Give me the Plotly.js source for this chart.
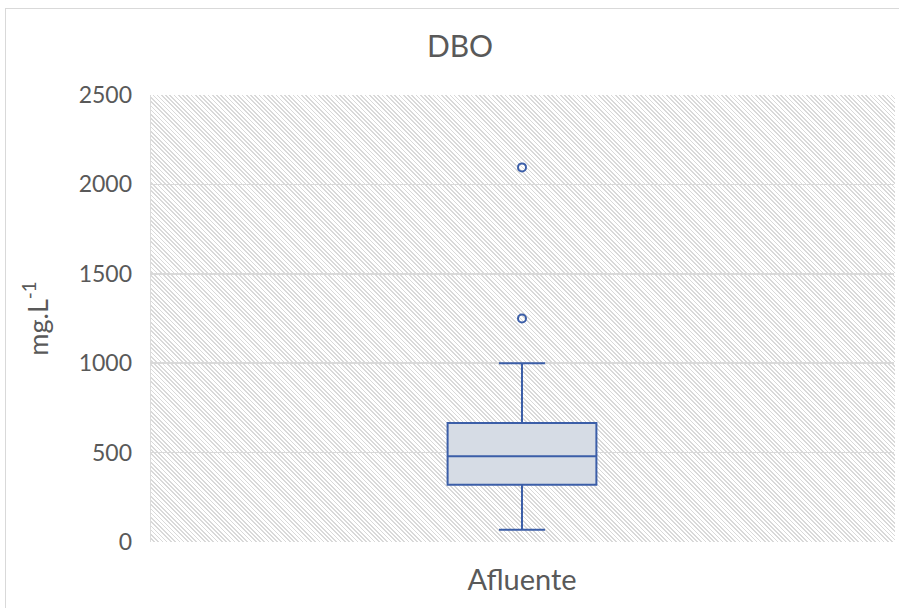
<!DOCTYPE html>
<html>
<head>
<meta charset="utf-8">
<script src="https://cdn.plot.ly/plotly-3.0.1.min.js"></script>
<style>
  html, body { margin: 0; padding: 0; background: #ffffff; overflow: hidden; }
  #hatch {
    position: absolute; left: 150px; top: 95px; width: 744px; height: 447px;
    background: repeating-linear-gradient(45deg, #ffffff 0px, #ffffff 1.8px, #d9d9d9 1.8px, #d9d9d9 3px);
    border-left: 1px solid #dcdcdc;
  }
  #chart { position: absolute; left: 0; top: 0; width: 899px; height: 608px; }
  #frame {
    position: absolute; left: 5px; top: 8px; width: 1000px; height: 700px;
    border: 1px solid #d9d9d9; pointer-events: none;
  }
</style>
</head>
<body>
<div id="hatch"></div>
<div id="chart"></div>
<div id="frame"></div>
<script>
// DBO (BOD) of the influent, summary statistics in mg/L
const categories = ['Afluente'];
const q1 = [320];
const median = [480];
const q3 = [665];
const lowerFence = [68];
const upperFence = [1000];
const outlierValues = [1250, 2095];
const outlierCategory = outlierValues.map(() => categories[0]);

const blue = '#3b5ea8';
const grey = '#595959';
const font = 'Lato, "Open Sans", sans-serif';

const traces = [
  {
    type: 'box',
    x: categories,
    q1: q1,
    median: median,
    q3: q3,
    lowerfence: lowerFence,
    upperfence: upperFence,
    boxpoints: false,
    width: 0.2,
    whiskerwidth: 0.31,
    fillcolor: '#d6dce5',
    line: { color: blue, width: 2 },
    hoverinfo: 'y',
    showlegend: false
  },
  {
    type: 'scatter',
    mode: 'markers',
    x: outlierCategory,
    y: outlierValues,
    marker: { symbol: 'circle-open', size: 8, color: blue, line: { width: 2, color: blue } },
    showlegend: false,
    hoverinfo: 'y'
  }
];

const layout = {
  width: 899,
  height: 608,
  margin: { l: 150, r: 5, t: 95, b: 66 },
  paper_bgcolor: 'rgba(0,0,0,0)',
  plot_bgcolor: 'rgba(0,0,0,0)',
  font: { family: font, color: grey },
  title: {
    text: 'DBO',
    font: { family: font, size: 30, color: grey },
    xref: 'container', x: 460 / 899, xanchor: 'center',
    yref: 'container', y: 1 - 46 / 608, yanchor: 'middle'
  },
  xaxis: {
    type: 'category',
    range: [-0.5, 0.5],
    showgrid: false,
    zeroline: false,
    showline: false,
    ticks: '',
    tickfont: { family: font, size: 29, color: grey },
    ticklabelstandoff: 18
  },
  yaxis: {
    range: [0, 2500],
    dtick: 500,
    tick0: 0,
    showgrid: true,
    gridcolor: '#d9d9d9',
    gridwidth: 1.5,
    zeroline: false,
    showline: false,
    ticks: '',
    tickfont: { family: font, size: 23, color: grey },
    ticklabelstandoff: 17,
    title: {
      text: 'mg.L<sup>-1</sup>',
      font: { family: font, size: 27, color: grey },
      standoff: 22
    }
  }
};

Plotly.newPlot('chart', traces, layout, { displayModeBar: false, staticPlot: true });
</script>
</body>
</html>
